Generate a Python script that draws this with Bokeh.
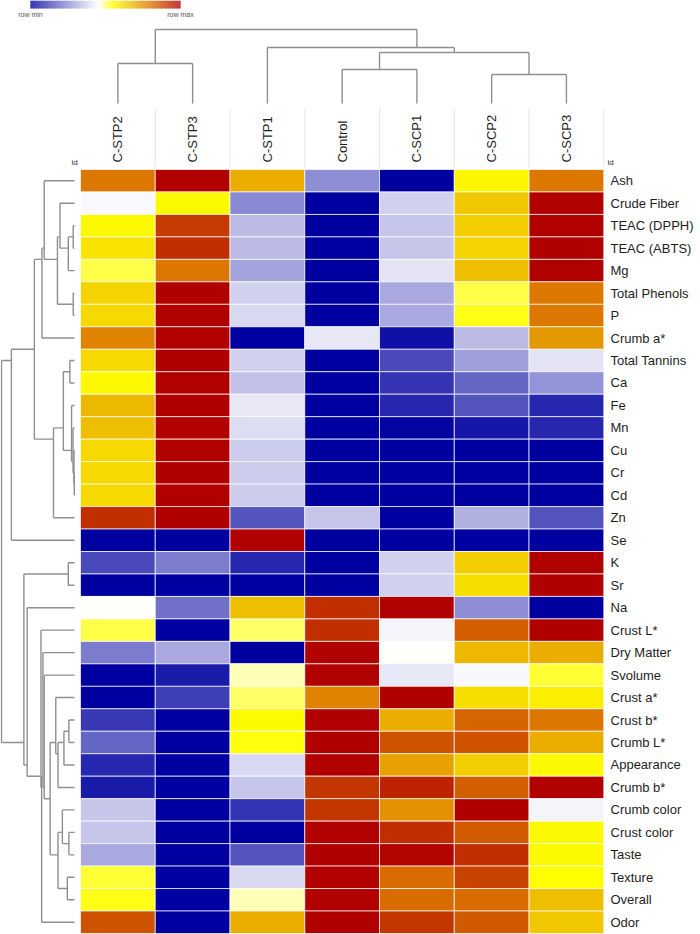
import numpy as np
from bokeh.plotting import figure
from bokeh.models import Range1d, ColumnDataSource, LinearColorMapper
from bokeh.core.properties import value
from bokeh.embed import file_html
from bokeh.resources import INLINE

# ---------------- data ----------------
columns = ["C-STP2", "C-STP3", "C-STP1", "Control", "C-SCP1", "C-SCP2", "C-SCP3"]
rows = ["Ash", "Crude Fiber", "TEAC (DPPH)", "TEAC (ABTS)", "Mg", "Total Phenols", "P",
        "Crumb a*", "Total Tannins", "Ca", "Fe", "Mn", "Cu", "Cr", "Cd", "Zn", "Se",
        "K", "Sr", "Na", "Crust L*", "Dry Matter", "Svolume", "Crust a*", "Crust b*",
        "Crumb L*", "Appearance", "Crumb b*", "Crumb color", "Crust color", "Taste",
        "Texture", "Overall", "Odor"]

# row-scaled values (0 = row min, 1 = row max), one list per sample, rows in order above
c_stp2 = [0.80, 0.44, 0.56, 0.60, 0.52, 0.63, 0.62, 0.78, 0.62, 0.56, 0.68, 0.67, 0.62, 0.62, 0.62, 0.92, 0.00,
          0.13, 0.00, 0.45, 0.52, 0.22, 0.00, 0.00, 0.10, 0.18, 0.07, 0.05, 0.35, 0.35, 0.30, 0.53, 0.54, 0.86]
c_stp3 = [1.00, 0.56, 0.90, 0.92, 0.80, 1.00, 1.00, 1.00, 1.00, 1.00, 1.00, 1.00, 1.00, 1.00, 1.00, 1.00, 0.00,
          0.22, 0.00, 0.20, 0.00, 0.30, 0.05, 0.11, 0.00, 0.00, 0.00, 0.00, 0.00, 0.00, 0.00, 0.00, 0.00, 0.00]
c_stp1 = [0.70, 0.24, 0.33, 0.33, 0.29, 0.37, 0.38, 0.00, 0.37, 0.34, 0.41, 0.39, 0.36, 0.36, 0.36, 0.15, 1.00,
          0.07, 0.00, 0.67, 0.51, 0.00, 0.48, 0.51, 0.555, 0.545, 0.38, 0.35, 0.09, 0.00, 0.15, 0.38, 0.48, 0.70]
control = [0.25, 0.00, 0.00, 0.00, 0.00, 0.00, 0.00, 0.41, 0.00, 0.00, 0.00, 0.00, 0.00, 0.00, 0.00, 0.35, 0.00,
           0.00, 0.00, 0.92, 0.92, 1.00, 1.00, 0.78, 1.00, 1.00, 1.00, 0.91, 0.91, 1.00, 1.00, 1.00, 1.00, 1.00]
c_scp1 = [0.00, 0.37, 0.35, 0.35, 0.40, 0.30, 0.30, 0.03, 0.13, 0.09, 0.07, 0.01, 0.00, 0.00, 0.00, 0.00, 0.00,
          0.37, 0.37, 1.00, 0.43, 0.45, 0.41, 1.00, 0.70, 0.86, 0.72, 0.94, 0.75, 0.92, 0.99, 0.82, 0.82, 0.91]
c_scp2 = [0.57, 0.65, 0.64, 0.63, 0.67, 0.52, 0.54, 0.33, 0.28, 0.18, 0.15, 0.04, 0.00, 0.00, 0.00, 0.31, 0.00,
          0.64, 0.61, 0.25, 0.84, 0.68, 0.44, 0.61, 0.83, 0.86, 0.64, 0.84, 1.00, 0.85, 0.92, 0.89, 0.82, 0.85]
c_scp3 = [0.80, 1.00, 1.00, 1.00, 1.00, 0.80, 0.80, 0.74, 0.40, 0.26, 0.07, 0.07, 0.00, 0.00, 0.00, 0.15, 0.00,
          1.00, 1.00, 0.00, 1.00, 0.70, 0.53, 0.58, 0.80, 0.70, 0.56, 1.00, 0.43, 0.56, 0.56, 0.55, 0.67, 0.65]
samples = [c_stp2, c_stp3, c_stp1, control, c_scp1, c_scp2, c_scp3]

# dendrograms: (child a, child b, merge distance); leaves 0..n-1, merge k creates node n+k
col_linkage = [(5, 6, 29), (3, 4, 34), (0, 1, 40), (8, 7, 51), (2, 10, 56), (9, 11, 74)]
row_linkage = [(2, 3, 1.3), (34, 4, 6.3), (1, 35, 14.7), (5, 6, 1.3), (36, 37, 17.3),
               (0, 38, 30.7), (39, 7, 33), (8, 9, 4.7), (13, 14, 0.2), (12, 42, 0.5),
               (11, 43, 1.5), (10, 44, 3), (41, 45, 11.3), (46, 15, 21.3), (40, 47, 40.7),
               (48, 16, 64), (17, 18, 6.3), (24, 25, 5.7), (51, 26, 10.7), (52, 27, 16.7),
               (23, 53, 19), (29, 30, 5.7), (28, 55, 12.3), (31, 32, 7.3), (56, 57, 16.7),
               (54, 58, 24.7), (22, 59, 30.7), (21, 60, 32), (61, 33, 33.3), (20, 62, 34),
               (19, 63, 48), (50, 64, 51.3), (49, 65, 74)]

# ---------------- layout (pixels) ----------------
W, H = 700, 934
HM_LEFT, HM_RIGHT = 80.0, 603.3
HM_TOP, HM_BOTTOM = 169.0, 933.0
CW = (HM_RIGHT - HM_LEFT) / 7          # column width px
RH = (HM_BOTTOM - HM_TOP) / 34         # row height px


def dx(px):
    return (px - HM_LEFT) / CW


def dy(py):
    return (py - HM_TOP) / RH


p = figure(width=W, height=H, output_backend="svg", toolbar_location=None,
           x_range=Range1d(dx(0), dx(W)), y_range=Range1d(dy(H), dy(0)),
           x_axis_location=None, y_axis_location=None, min_border=0,
           outline_line_color=None, background_fill_color="white")
p.grid.visible = False
p.min_border_left = p.min_border_right = p.min_border_top = p.min_border_bottom = 0

# colour scale
stops = [(0.0, (0, 0, 160)), (0.45, (255, 255, 255)), (0.55, (255, 255, 0)),
         (0.8, (220, 120, 0)), (1.0, (176, 0, 0))]
palette = []
for t in np.linspace(0, 1, 256):
    for (t0, c0), (t1, c1) in zip(stops[:-1], stops[1:]):
        if t0 <= t <= t1:
            f = (t - t0) / (t1 - t0)
            c = [int(round(a + (b - a) * f)) for a, b in zip(c0, c1)]
            palette.append("#%02x%02x%02x" % tuple(c))
            break
mapper = LinearColorMapper(palette=palette, low=0, high=1)

# heatmap
xs, ys, vs = [], [], []
for j, col in enumerate(samples):
    for i, v in enumerate(col):
        xs.append(j + 0.5)
        ys.append(i + 0.5)
        vs.append(v)
src = ColumnDataSource(dict(x=xs, y=ys, v=vs))
p.rect(x="x", y="y", width=1, height=1, source=src,
       fill_color={"field": "v", "transform": mapper},
       line_color="white", line_alpha=0.7, line_width=1)

FONT = value("Liberation Sans")

# row labels
p.text(x=[dx(610)] * len(rows), y=[i + 0.5 for i in range(len(rows))], text=rows,
       text_font=FONT, text_font_size="13px", text_baseline="middle",
       text_align="left", text_color="#1e1e1e")

# column labels (rotated)
p.text(x=[j + 0.5 for j in range(len(columns))], y=[dy(162)] * len(columns), text=columns,
       text_font=FONT, text_font_size="13px", text_baseline="middle",
       text_align="left", angle=np.pi / 2, text_color="#1e1e1e")

# faint separators in the label band
p.segment(x0=list(range(1, 8)), x1=list(range(1, 8)), y0=[dy(108)] * 7, y1=[dy(167)] * 7,
          line_color="#e6e6e6", line_width=1)

# "id" markers
p.text(x=[dx(71), dx(607)], y=[dy(162), dy(162)], text=["id", "id"], text_font=FONT,
       text_font_size="8px", text_baseline="middle", text_align="left", text_color="#333333")


# dendrogram helper
def dendro_segments(n, linkage):
    pos = {i: i + 0.5 for i in range(n)}
    leaves = {i: [i] for i in range(n)}
    hgt = {i: 0.0 for i in range(n)}
    segs = []
    for k, (a, b, d) in enumerate(linkage):
        node = n + k
        leaves[node] = leaves[a] + leaves[b]
        pos[node] = float(np.mean([pos[l] for l in leaves[node]]))
        hgt[node] = d
        segs.append(((pos[a], hgt[a]), (pos[a], d)))
        segs.append(((pos[b], hgt[b]), (pos[b], d)))
        segs.append(((pos[a], d), (pos[b], d)))
    return segs


DCOL = "#8f8f8f"
# top (column) dendrogram: leaves end at page y=103, 1 distance unit = 1 px
cs = dendro_segments(len(columns), col_linkage)
p.multi_line(xs=[[s[0][0], s[1][0]] for s in cs],
             ys=[[dy(103) - s[0][1] / RH, dy(103) - s[1][1] / RH] for s in cs],
             line_color=DCOL, line_width=1.4)

# left (row) dendrogram: leaves end at page x=74
K = 73.0 / 74.0
rs = dendro_segments(len(rows), row_linkage)
p.multi_line(xs=[[dx(74) - s[0][1] * K / CW, dx(74) - s[1][1] * K / CW] for s in rs],
             ys=[[s[0][0], s[1][0]] for s in rs],
             line_color=DCOL, line_width=1.4)

# colour bar legend at top-left
grad = np.linspace(0, 1, 150)
cb_x = [dx(30) + (k + 0.5) * (dx(180) - dx(30)) / 150 for k in range(150)]
cb_src = ColumnDataSource(dict(x=cb_x, y=[(dy(0) + dy(8)) / 2] * 150, v=grad))
p.rect(x="x", y="y", width=(dx(180) - dx(30)) / 150 * 1.05,
       height=dy(8) - dy(0), fill_color={"field": "v", "transform": mapper},
       line_color=None, source=cb_src)
p.text(x=[dx(30), dx(180)], y=[dy(14)] * 2, text=["row min", "row max"], text_font=FONT,
       text_font_size="7px", text_baseline="middle", text_align="center", text_color="#555555")

open("out.html", "w").write(file_html(p, INLINE))
